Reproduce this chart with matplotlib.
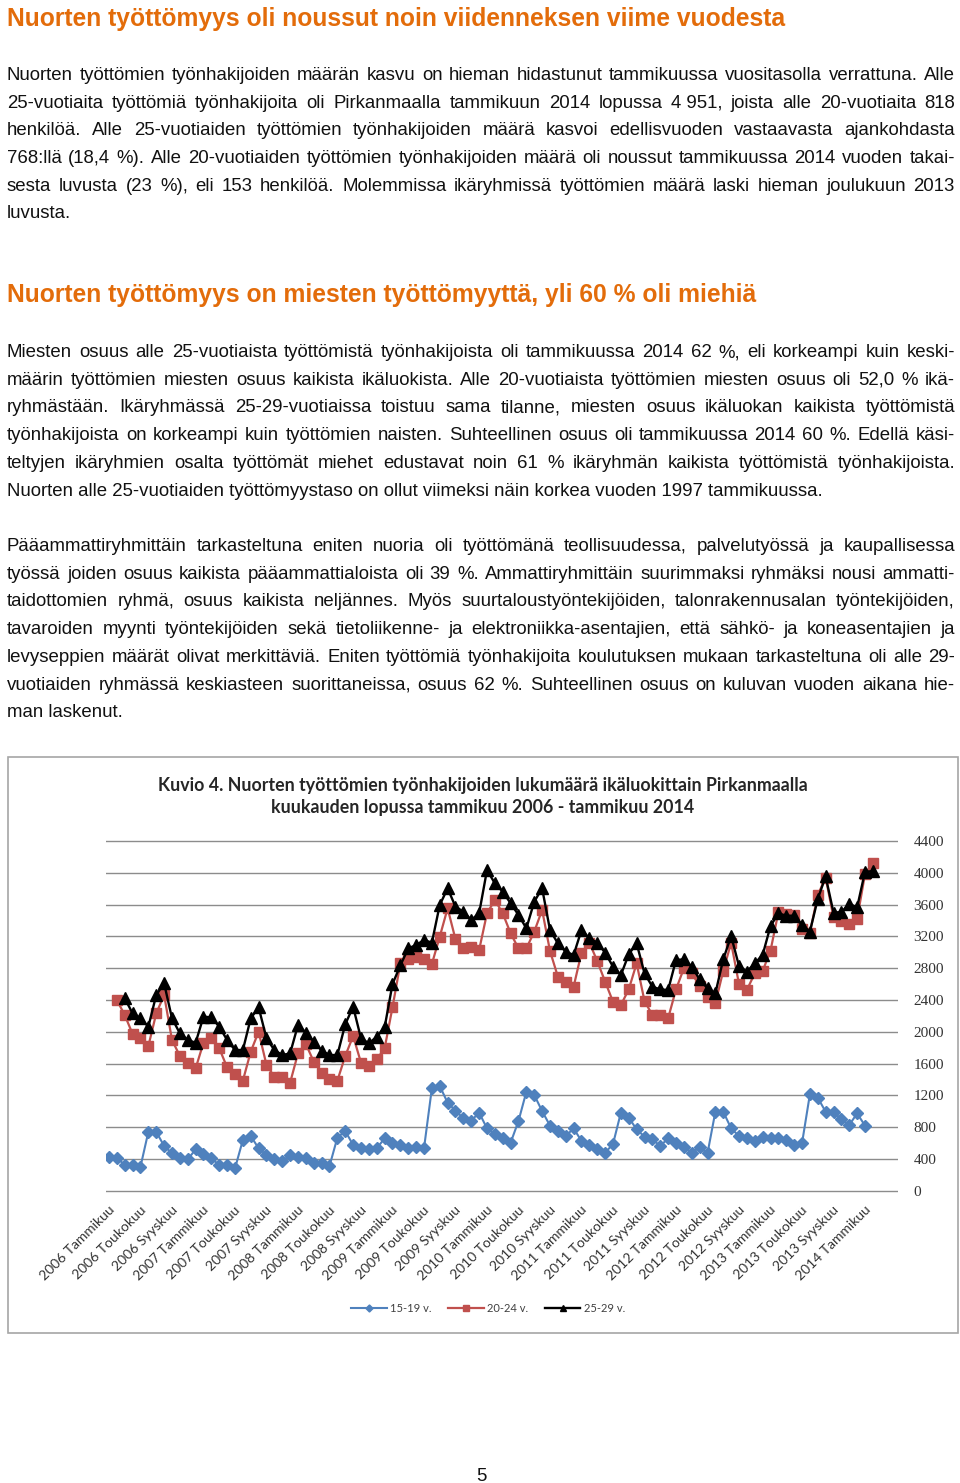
import numpy as np
import matplotlib
matplotlib.use("Agg")
import matplotlib.pyplot as plt
from matplotlib.font_manager import FontProperties
from matplotlib.patches import Rectangle

# ---------------- data ----------------
series_names = ["15-19 v.", "20-24 v.", "25-29 v."]

tick_labels = [
    "2006 Tammikuu", "2006 Toukokuu", "2006 Syyskuu",
    "2007 Tammikuu", "2007 Toukokuu", "2007 Syyskuu",
    "2008 Tammikuu", "2008 Toukokuu", "2008 Syyskuu",
    "2009 Tammikuu", "2009 Toukokuu", "2009 Syyskuu",
    "2010 Tammikuu", "2010 Toukokuu", "2010 Syyskuu",
    "2011 Tammikuu", "2011 Toukokuu", "2011 Syyskuu",
    "2012 Tammikuu", "2012 Toukokuu", "2012 Syyskuu",
    "2013 Tammikuu", "2013 Toukokuu", "2013 Syyskuu",
    "2014 Tammikuu",
]

y_ticks = [0, 400, 800, 1200, 1600, 2000, 2400, 2800, 3200, 3600, 4000, 4400]

# monthly values Jan 2006 - Jan 2014
age_15_19 = [
    428, 415, 323, 323, 302, 742, 742, 562, 470, 415, 394, 520,
    457, 407, 323, 323, 281, 638, 688, 533, 449, 394, 373, 449,
    428, 407, 344, 344, 310, 667, 751, 575, 533, 520, 533, 659,
    596, 575, 533, 554, 533, 1288, 1317, 1107, 1007, 910, 881, 982,
    784, 713, 659, 604, 877, 1246, 1204, 1002, 818, 755, 688, 784,
    625, 575, 520, 478, 587, 982, 919, 772, 680, 646, 562, 659,
    604, 554, 478, 545, 470, 994, 994, 784, 688, 667, 625, 680,
    667, 659, 638, 575, 596, 1212, 1170, 994, 986, 902, 826, 973,
    818,
]

age_20_24 = [
    2399, 2210, 1971, 1917, 1820, 2231, 2462, 1896, 1695, 1602, 1539, 1862,
    1925, 1791, 1552, 1468, 1384, 1749, 2001, 1581, 1435, 1435, 1359, 1728,
    1846, 1623, 1485, 1401, 1384, 1695, 1946, 1611, 1569, 1653, 1791, 2307,
    2860, 2911, 2945, 2911, 2852, 3196, 3553, 3163, 3058, 3070, 3028, 3490,
    3658, 3490, 3238, 3049, 3049, 3259, 3532, 3016, 2693, 2630, 2567, 2995,
    3121, 2890, 2630, 2378, 2336, 2533, 2861, 2387, 2210, 2210, 2169, 2533,
    2798, 2735, 2575, 2441, 2357, 2768, 3120, 2600, 2525, 2735, 2764, 3020,
    3502, 3477, 3469, 3288, 3247, 3720, 3940, 3440, 3390, 3350, 3420, 3985,
    4125,
]

age_25_29 = [
    np.nan, 2420, 2231, 2169, 2064, 2462, 2609, 2169, 1980, 1896, 1862, 2190,
    2181, 2064, 1896, 1770, 1770, 2169, 2307, 1917, 1770, 1707, 1728, 2085,
    1988, 1875, 1762, 1707, 1707, 2093, 2315, 1917, 1854, 1938, 2055, 2600,
    2835, 3049, 3091, 3154, 3121, 3595, 3804, 3574, 3511, 3406, 3490, 4035,
    3867, 3762, 3616, 3469, 3301, 3637, 3804, 3280, 3112, 3007, 2966, 3280,
    3175, 3121, 2995, 2819, 2714, 2974, 3112, 2735, 2567, 2533, 2525, 2903,
    2911, 2819, 2659, 2546, 2483, 2911, 3205, 2827, 2756, 2861, 2966, 3330,
    3490, 3460, 3460, 3343, 3259, 3670, 3955, 3500, 3505, 3610, 3565, 4014,
    4020,
]

heading1 = "Nuorten työttömyys oli noussut noin viidenneksen viime vuodesta"
para1 = [
    "Nuorten työttömien työnhakijoiden määrän kasvu on hieman hidastunut tammikuussa vuositasolla verrattuna. Alle",
    "25-vuotiaita työttömiä työnhakijoita oli Pirkanmaalla tammikuun 2014 lopussa 4\u00a0951, joista alle 20-vuotiaita 818",
    "henkilöä. Alle 25-vuotiaiden työttömien työnhakijoiden määrä kasvoi edellisvuoden vastaavasta ajankohdasta",
    "768:llä (18,4 %). Alle 20-vuotiaiden työttömien työnhakijoiden määrä oli noussut tammikuussa 2014 vuoden takai-",
    "sesta luvusta (23 %), eli 153 henkilöä. Molemmissa ikäryhmissä työttömien määrä laski hieman joulukuun 2013",
    "luvusta.",
]
heading2 = "Nuorten työttömyys on miesten työttömyyttä, yli 60 % oli miehiä"
para2 = [
    "Miesten osuus alle 25-vuotiaista työttömistä työnhakijoista oli tammikuussa 2014 62 %, eli korkeampi kuin keski-",
    "määrin työttömien miesten osuus kaikista ikäluokista. Alle 20-vuotiaista työttömien miesten osuus oli 52,0 % ikä-",
    "ryhmästään. Ikäryhmässä 25-29-vuotiaissa toistuu sama tilanne, miesten osuus ikäluokan kaikista työttömistä",
    "työnhakijoista on korkeampi kuin työttömien naisten. Suhteellinen osuus oli tammikuussa 2014 60 %. Edellä käsi-",
    "teltyjen ikäryhmien osalta työttömät miehet edustavat noin 61 % ikäryhmän kaikista työttömistä työnhakijoista.",
    "Nuorten alle 25-vuotiaiden työttömyystaso on ollut viimeksi näin korkea vuoden 1997 tammikuussa.",
]
para3 = [
    "Pääammattiryhmittäin tarkasteltuna eniten nuoria oli työttömänä teollisuudessa, palvelutyössä ja kaupallisessa",
    "työssä joiden osuus kaikista pääammattialoista oli 39 %. Ammattiryhmittäin suurimmaksi ryhmäksi nousi ammatti-",
    "taidottomien ryhmä, osuus kaikista neljännes. Myös suurtaloustyöntekijöiden, talonrakennusalan työntekijöiden,",
    "tavaroiden myynti työntekijöiden sekä tietoliikenne- ja elektroniikka-asentajien, että sähkö- ja koneasentajien ja",
    "levyseppien määrät olivat merkittäviä. Eniten työttömiä työnhakijoita koulutuksen mukaan tarkasteltuna oli alle 29-",
    "vuotiaiden ryhmässä keskiasteen suorittaneissa, osuus 62 %. Suhteellinen osuus on kuluvan vuoden aikana hie-",
    "man laskenut.",
]
chart_title = [
    "Kuvio 4. Nuorten työttömien työnhakijoiden lukumäärä ikäluokittain Pirkanmaalla",
    "kuukauden lopussa tammikuu 2006 - tammikuu 2014",
]
page_number = "5"

# ---------------- figure ----------------
W, H, DPI = 960, 1483, 100
fig = plt.figure(figsize=(W / DPI, H / DPI), dpi=DPI)
fig.patch.set_facecolor("white")
renderer = fig.canvas.get_renderer()


def px(x, y):
    return x / W, 1 - y / H


def twidth(s, fp):
    w, h, d = renderer.get_text_width_height_descent(s, fp, ismath=False)
    return w


def fit_size(s, family, weight, target):
    fp = FontProperties(family=family, weight=weight, size=10)
    return 10 * target / twidth(s, fp)


BODY = "Liberation Sans"
LEFT, RIGHT = 7, 955
TEXT_COLOR = "#111111"
ORANGE = "#E36C0A"

body_size = fit_size(para2[-1], BODY, "normal", 820)
fp_body = FontProperties(family=BODY, size=body_size)
head_size = fit_size(heading1, BODY, "bold", 776)
fp_head = FontProperties(family=BODY, weight="bold", size=head_size)


def draw_line(text, ybase, justify):
    if not justify:
        fig.text(*px(LEFT, ybase), text, fontproperties=fp_body, ha="left",
                 va="baseline", color=TEXT_COLOR)
        return
    words = text.split(" ")
    widths = [twidth(w, fp_body) for w in words]
    gap = (RIGHT - LEFT - sum(widths)) / (len(words) - 1)
    x = LEFT
    for w, wd in zip(words, widths):
        fig.text(*px(x, ybase), w, fontproperties=fp_body, ha="left",
                 va="baseline", color=TEXT_COLOR)
        x += wd + gap


def draw_para(lines, y0, step=27.7):
    for k, line in enumerate(lines):
        draw_line(line, y0 + k * step, justify=(k < len(lines) - 1))


fig.text(*px(LEFT, 26), heading1, fontproperties=fp_head, color=ORANGE,
         ha="left", va="baseline")
draw_para(para1, 80.0)
fig.text(*px(LEFT, 302), heading2, fontproperties=fp_head, color=ORANGE,
         ha="left", va="baseline")
draw_para(para2, 357.0)
draw_para(para3, 551.0)

fig.text(*px(481, 1481), page_number, fontproperties=fp_body, ha="center",
         va="baseline", color=TEXT_COLOR)

# ---------------- chart ----------------
fig.add_artist(Rectangle(px(8, 1333), 950 / W, 576 / H, transform=fig.transFigure,
                         fill=False, ec="#a6a6a6", lw=1.2))

CHART_FONT = "Lato"
title_size = fit_size(chart_title[0], CHART_FONT, "bold", 648)
fp_title = FontProperties(family=CHART_FONT, weight="bold", size=title_size)
fig.text(*px(483, 785), chart_title[0], fontproperties=fp_title, ha="center",
         va="center", color="#262626")
fig.text(*px(483, 807), chart_title[1], fontproperties=fp_title, ha="center",
         va="center", color="#262626")

# plot area geometry (pixels)
y0_px, y4400_px = 1190.7, 841.0
scale = (y0_px - y4400_px) / 4400.0
ypad = 25
ax_bottom = y0_px + ypad * scale
ax_top = y4400_px - ypad * scale
ax = fig.add_axes([106 / W, 1 - ax_bottom / H, 792 / W, (ax_bottom - ax_top) / H])
ax.patch.set_alpha(0)

x_blue = np.arange(len(age_15_19))
x_other = np.arange(len(age_20_24)) + 1  # drawn one category to the right, as in the reference

l_red, = ax.plot(x_other, age_20_24, color="#C0504D", lw=1.6, marker="s", ms=7,
                 mec="#C0504D", mfc="#C0504D", zorder=3)
l_blk, = ax.plot(x_other, age_25_29, color="black", lw=1.7, marker="^", ms=8,
                 zorder=4)
l_blu, = ax.plot(x_blue, age_15_19, color="#4F81BD", lw=1.5, marker="D", ms=6.5,
                 mec="#4F81BD", zorder=3)

ax.set_xlim(-0.38, 100.19)
ax.set_ylim(-ypad, 4400 + ypad)
ax.set_yticks(y_ticks)
ax.set_yticklabels([str(v) for v in y_ticks], fontfamily="Liberation Serif",
                   fontsize=11, color="#333333")
ax.yaxis.tick_right()
ax.tick_params(axis="y", length=0, pad=11)
ax.grid(axis="y", color="#8c8c8c", lw=1.0)
ax.set_axisbelow(True)
for s in ax.spines.values():
    s.set_visible(False)

ax.set_xticks(np.arange(len(tick_labels)) * 4 - 0.1)
ax.set_xticklabels(tick_labels, rotation=45, ha="right", va="top",
                   rotation_mode="anchor", fontfamily=CHART_FONT, fontsize=10,
                   color="#333333")
ax.tick_params(axis="x", length=0, pad=8)

leg = fig.legend(handles=[l_blu, l_red, l_blk], labels=series_names, loc="center",
                 bbox_to_anchor=px(488, 1308), ncol=3, frameon=False,
                 prop=FontProperties(family=CHART_FONT, size=8),
                 handlelength=3.2, handletextpad=0.3, columnspacing=1.5,
                 markerscale=0.55)
for t in leg.get_texts():
    t.set_color("#404040")

fig.savefig("out.png", dpi=DPI, facecolor="white")
